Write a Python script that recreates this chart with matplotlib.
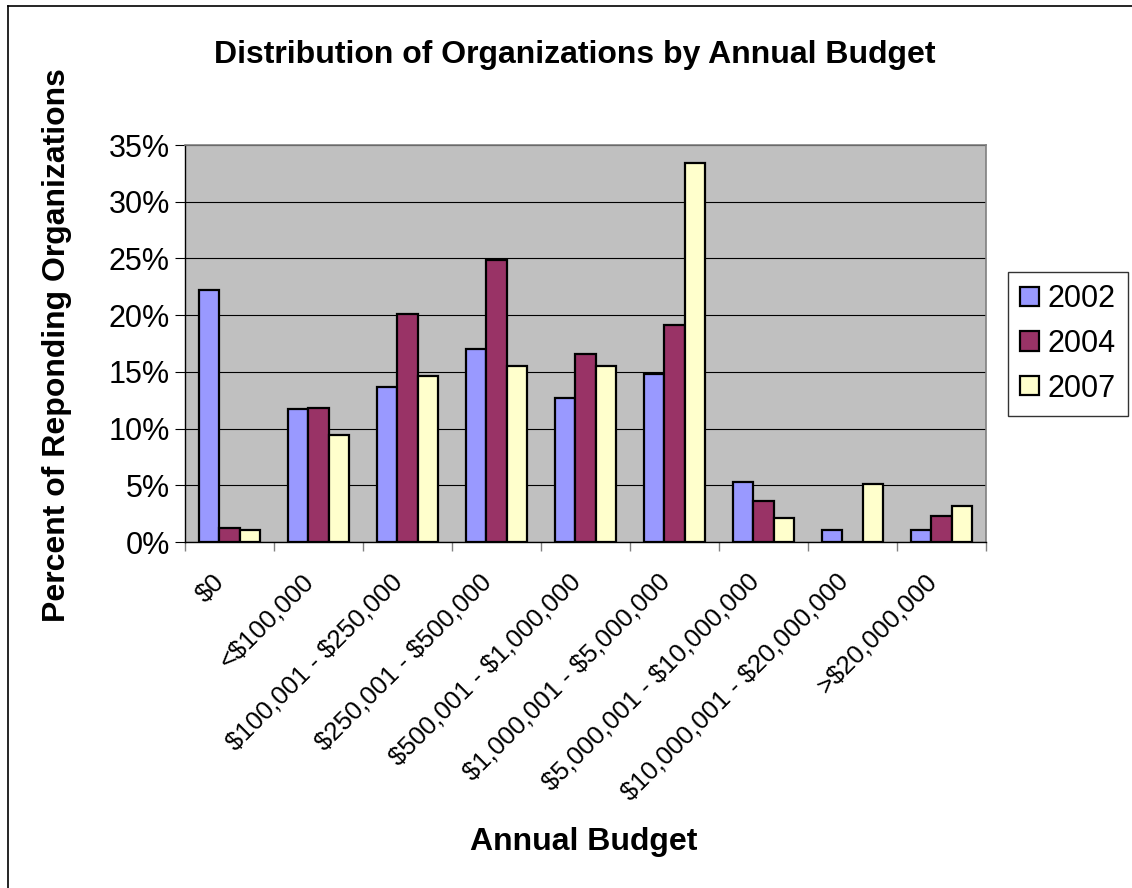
import matplotlib
matplotlib.use("Agg")
import matplotlib.pyplot as plt
from matplotlib.lines import Line2D
from matplotlib.ticker import FuncFormatter, FixedLocator
import numpy as np

budgets = ["$0", "<$100,000", "$100,001 - $250,000", "$250,001 - $500,000",
           "$500,001 - $1,000,000", "$1,000,001 - $5,000,000",
           "$5,000,001 - $10,000,000", "$10,000,001 - $20,000,000",
           ">$20,000,000"]
years = ["2002", "2004", "2007"]
pct_2002 = [22.2, 11.7, 13.7, 17.0, 12.7, 14.8, 5.3, 1.1, 1.1]
pct_2004 = [1.2, 11.8, 20.1, 24.9, 16.6, 19.1, 3.6, 0.0, 2.3]
pct_2007 = [1.1, 9.4, 14.6, 15.5, 15.5, 33.4, 2.1, 5.1, 3.2]
bar_colors = ["#9999FF", "#993366", "#FFFFCC"]

plt.rcParams["font.family"] = ["Liberation Sans", "DejaVu Sans"]

W, H = 1132, 888
fig = plt.figure(figsize=(W / 100, H / 100), dpi=100)
ax = fig.add_axes([185 / W, 1 - 542 / H, (986 - 185) / W, (542 - 145) / H])
ax.set_facecolor("#C0C0C0")

x = np.arange(len(budgets))
w = 0.225
for k, (vals, col, yr) in enumerate(zip([pct_2002, pct_2004, pct_2007], bar_colors, years)):
    ax.bar(x + (k - 1) * w, vals, w, color=col, edgecolor="black", linewidth=1.6,
           label=yr, zorder=3)

ax.set_xlim(-0.5, len(budgets) - 0.5)
ax.set_ylim(0, 35)
ax.set_yticks(np.arange(0, 36, 5))
ax.yaxis.set_major_formatter(FuncFormatter(lambda v, p: "%d%%" % v))
ax.yaxis.grid(True, color="black", linewidth=0.8, zorder=1)
ax.set_axisbelow(True)
ax.tick_params(axis="y", length=7, width=0.8, direction="out", labelsize=22, pad=4)

# dollar signs escaped so they are not read as mathtext
ax.set_xticks(x)
ax.set_xticklabels([b.replace("$", r"\$") for b in budgets], rotation=45, ha="right",
                   va="bottom", rotation_mode="anchor", fontsize=18.5)
ax.tick_params(axis="x", which="major", length=0, pad=32)
ax.xaxis.set_minor_locator(FixedLocator(np.arange(-0.5, len(budgets), 1)))
ax.tick_params(axis="x", which="minor", length=6.5, width=1, color="#808080", direction="out")

for side in ["top", "right"]:
    ax.spines[side].set_color("#808080")
    ax.spines[side].set_linewidth(1.2)
for side in ["left", "bottom"]:
    ax.spines[side].set_color("black")
    ax.spines[side].set_linewidth(1.0)

fig.text(575 / W, 1 - 55 / H, "Distribution of Organizations by Annual Budget",
         ha="center", va="center", fontsize=23, fontweight="bold")
fig.text(57 / W, 1 - 345 / H, "Percent of Reponding Organizations", rotation=90,
         ha="center", va="center", fontsize=23, fontweight="bold")
fig.text(584 / W, 1 - 842 / H, "Annual Budget", ha="center", va="center",
         fontsize=23, fontweight="bold")

leg = fig.legend(loc="upper left", bbox_to_anchor=(1008 / W, 1 - 272 / H),
                 borderaxespad=0, fontsize=22, handlelength=0.6, handleheight=0.6,
                 handletextpad=0.3, labelspacing=0.48, borderpad=0.4, fancybox=False)
leg.get_frame().set_edgecolor("black")
leg.get_frame().set_linewidth(1.0)

# chart frame edges
fig.add_artist(Line2D([8 / W, 8 / W], [0, 1 - 6 / H], color="black", linewidth=1.2))
fig.add_artist(Line2D([8 / W, 1], [1 - 6 / H, 1 - 6 / H], color="black", linewidth=1.2))

fig.savefig("out.png", dpi=100)
